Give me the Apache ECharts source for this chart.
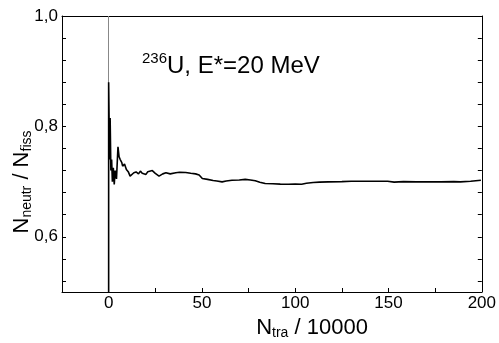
<!DOCTYPE html>
<html>
<head>
<meta charset="utf-8">
<script src="https://cdn.jsdelivr.net/npm/echarts@6/dist/echarts.min.js"></script>
<style>
html,body{margin:0;padding:0;background:#fff;}
#c{width:499px;height:343px;}
</style>
</head>
<body>
<div id="c"></div>
<script>
// x values (N_tra / 10000) and ratio N_neutr / N_fiss
var xValues = [0, 0, 0.5, 0.8, 1.2, 1.6, 2.0, 2.5, 3.0, 3.5, 4.2, 5.0, 5.6, 6.2, 7.0, 7.5, 8.5, 9.5, 10.5, 11.5, 12.5, 13.5, 14.7, 16, 17, 18, 19, 20, 21, 21.8, 23.4, 25, 27, 29, 30.7, 33, 36, 38, 41.3, 44, 46.6, 48.5, 50.2, 53, 56, 58, 60.8, 63, 66.1, 70, 73.2, 76, 78.6, 81, 83.9, 88, 92, 96.3, 100, 103.4, 106, 109.6, 113, 117.6, 125, 130, 135.3, 142, 149.5, 153, 158, 165, 170.7, 178, 185, 188.5, 194, 199.5];
var ratioValues = [0.50, 0.88, 0.74, 0.815, 0.72, 0.74, 0.70, 0.725, 0.695, 0.72, 0.705, 0.763, 0.745, 0.74, 0.735, 0.728, 0.732, 0.722, 0.718, 0.71, 0.713, 0.716, 0.7175, 0.714, 0.719, 0.715, 0.718, 0.713, 0.718, 0.715, 0.720, 0.715, 0.710, 0.714, 0.716, 0.714, 0.716, 0.717, 0.7165, 0.715, 0.714, 0.712, 0.7055, 0.704, 0.702, 0.701, 0.6995, 0.701, 0.7025, 0.703, 0.704, 0.703, 0.7015, 0.699, 0.6965, 0.696, 0.6955, 0.6953, 0.6955, 0.6953, 0.697, 0.6983, 0.699, 0.6995, 0.700, 0.7005, 0.7007, 0.7005, 0.7007, 0.699, 0.700, 0.6995, 0.6995, 0.6995, 0.700, 0.6995, 0.7005, 0.7025];
var xLabelValues = [0, 50, 100, 150, 200];
var yLabelValues = [0.6, 0.8, 1.0];
var yTickValues = [0.52, 0.56, 0.60, 0.64, 0.68, 0.72, 0.76, 0.80, 0.84, 0.88, 0.92, 0.96, 1.0];
var zeroLineX = 0;

var seriesData = xValues.map(function (x, i) { return [x, ratioValues[i]]; });
var FONT = '"Liberation Sans", Arial, sans-serif';

var chart = echarts.init(document.getElementById('c'), null, {renderer: 'canvas'});
chart.setOption({
  animation: false,
  backgroundColor: '#fff',
  grid: {left: 62, right: 14, top: 16, bottom: 51, containLabel: false},
  xAxis: [{
    type: 'value', min: -25, max: 200, interval: 25,
    axisLine: {show: true, onZero: false, lineStyle: {color: '#000', width: 1}},
    axisTick: {show: true, inside: true, length: 4, lineStyle: {color: '#000'}},
    axisLabel: {
      margin: 3, color: '#000', fontSize: 17, fontFamily: FONT,
      formatter: function (v) { return xLabelValues.indexOf(v) >= 0 ? String(v) : ''; }
    },
    splitLine: {show: false}
  }, {
    type: 'value', position: 'top', min: -25, max: 200,
    axisLine: {show: true, onZero: false, lineStyle: {color: '#000', width: 1}},
    axisTick: {show: false}, axisLabel: {show: false}, splitLine: {show: false}
  }],
  yAxis: [{
    type: 'value', min: 0.5, max: 1.0,
    axisLine: {show: true, onZero: false, lineStyle: {color: '#000', width: 1}},
    axisTick: {show: true, inside: true, length: 4, customValues: yTickValues, lineStyle: {color: '#000'}},
    axisLabel: {
      margin: 4, color: '#000', fontSize: 17, fontFamily: FONT,
      customValues: yLabelValues,
      formatter: function (v) { return v.toFixed(1).replace('.', ','); }
    },
    splitLine: {show: false}
  }, {
    type: 'value', position: 'right', min: 0.5, max: 1.0,
    axisLine: {show: true, onZero: false, lineStyle: {color: '#000', width: 1}},
    axisTick: {show: true, inside: true, length: 4, customValues: yTickValues, lineStyle: {color: '#000'}},
    axisLabel: {show: false}, splitLine: {show: false}
  }],
  series: [{
    type: 'line', xAxisIndex: 0, yAxisIndex: 0, data: [], z: 1,
    markLine: {
      silent: true, symbol: ['none', 'none'], label: {show: false},
      lineStyle: {color: '#888', width: 1, type: 'solid'},
      data: [{xAxis: zeroLineX}]
    }
  }, {
    type: 'line', xAxisIndex: 0, yAxisIndex: 0,
    data: seriesData, showSymbol: false, symbol: 'none', clip: true,
    lineStyle: {color: '#000', width: 1.6},
    z: 5
  }],
  graphic: [{
    type: 'text', left: 142, top: 51,
    style: {
      text: '{sup|236}{m|U, E*=20 MeV}',
      rich: {
        sup: {fontSize: 15, fontFamily: FONT, fill: '#000', verticalAlign: 'top', lineHeight: 15},
        m: {fontSize: 24, fontFamily: FONT, fill: '#000', lineHeight: 30}
      }
    }
  }, {
    type: 'text', x: 312, y: 328,
    style: {
      text: '{n|N}{s|tra}{n| / 10000}',
      align: 'center', verticalAlign: 'middle',
      rich: {
        n: {fontSize: 22, fontFamily: FONT, fill: '#000', lineHeight: 25},
        s: {fontSize: 14, fontFamily: FONT, fill: '#000', lineHeight: 14, verticalAlign: 'bottom'}
      }
    }
  }, {
    type: 'text', x: 22, y: 182, rotation: Math.PI / 2,
    style: {
      text: '{n|N}{s|neutr}{n| / N}{s|fiss}',
      align: 'center', verticalAlign: 'middle',
      rich: {
        n: {fontSize: 22, fontFamily: FONT, fill: '#000', lineHeight: 25},
        s: {fontSize: 14, fontFamily: FONT, fill: '#000', lineHeight: 14, verticalAlign: 'bottom'}
      }
    }
  }]
});
</script>
</body>
</html>
